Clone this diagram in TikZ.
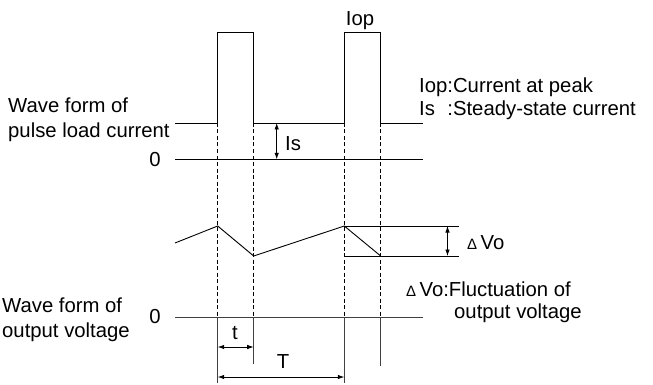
\documentclass[tikz,border=0pt]{standalone}
\usepackage{fontspec}
\setmainfont{Liberation Sans}
\usepackage{tikz}
\usetikzlibrary{arrows.meta,positioning}
\newcommand{\dlt}{{\fontsize{15}{15}\selectfont Δ}\,}

\begin{document}
\begin{tikzpicture}[x=1pt,y=-1pt,font=\fontsize{20.3}{25}\selectfont,
    wave/.style={line width=0.9pt},
    guide/.style={line width=0.7pt,dash pattern=on 4pt off 2.5pt},
    ext/.style={line width=0.8pt,black!75},
    dim/.style={{Latex[length=6.5pt,width=4.5pt]}-{Latex[length=6.5pt,width=4.5pt]},line width=0.8pt},
    lbl/.style={inner sep=0pt,anchor=base}]
  \useasboundingbox (0,0) rectangle (653,385);
  % pulse load current
  \draw[wave] (175,123) -- (217.7,123) -- (217.7,32) -- (253.7,32) -- (253.7,123)
    -- (344.3,123) -- (344.3,32) -- (380.7,32) -- (380.7,123) -- (423,123);
  \draw[wave] (175,159.3) -- (423,159.3);
  \coordinate (isTop) at (276.7,123);
  \coordinate (isBot) at (276.7,159.3);
  \draw[dim] (isTop) -- (isBot);
  \node[lbl,anchor=base west] (is) at (285,150) {Is};
  \node[lbl] (iop) at (360,25.5) {Iop};
  % output voltage
  \coordinate (v0) at (175,243);
  \coordinate (vp1) at (217.7,226);
  \coordinate (vt1) at (253.7,256);
  \coordinate (vp2) at (344.3,226);
  \coordinate (vt2) at (380.7,256);
  \coordinate (vpR) at (459,226);
  \coordinate (vtR) at (459,256);
  \draw[wave] (v0) -- (vp1) -- (vt1) -- (vp2) -- (vt2);
  \draw[wave] (vp2) -- (vpR);
  \draw[wave] (344.3,256) -- (vtR);
  \draw[dim] (447.5,226) -- (447.5,256);
  \node[lbl,anchor=base west] (dv) at (467,249) {\dlt Vo};
  \draw[ext] (175,317) -- (423,317);
  % time marks
  \foreach \x in {217.7,253.7,344.3,380.7}
    \draw[guide] (\x,123) -- (\x,317);
  \draw[ext] (217.7,317) -- (217.7,383);
  \draw[ext] (253.7,317) -- (253.7,364);
  \draw[ext] (344.3,317) -- (344.3,383);
  \draw[ext] (380.7,317) -- (380.7,366);
  \coordinate (tA) at (217.7,347);
  \coordinate (tB) at (253.7,347);
  \coordinate (TA) at (217.7,377);
  \coordinate (TB) at (344.3,377);
  \draw[dim] (tA) -- (tB);
  \draw[dim] (TA) -- (TB);
  \node[lbl] (tlab) at (235,339) {t};
  \node[lbl] (Tlab) at (283,368.5) {T};
  % labels
  \node[anchor=west,align=left,inner sep=0pt] (cur) at (8,119.5) {Wave form of\\pulse load current};
  \node[lbl] (zc) at (155,166) {0};
  \node[anchor=west,align=left,inner sep=0pt] (vol) at (2,319.5) {Wave form of\\output voltage};
  \node[lbl] (zv) at (155,323.3) {0};
  \node[anchor=west,inner sep=0pt] (legI) at (419,99.7)
    {\def\arraystretch{0.91}\begin{tabular}{@{}l@{}l@{}}Iop&:Current at peak\\Is&:Steady-state current\end{tabular}};
  \node[anchor=west,align=left,inner sep=0pt,font=\fontsize{20.3}{21.5}\selectfont] (legV) at (406,302)
    {\dlt Vo:Fluctuation of\\\hspace*{48pt}output voltage};
\end{tikzpicture}
\end{document}
